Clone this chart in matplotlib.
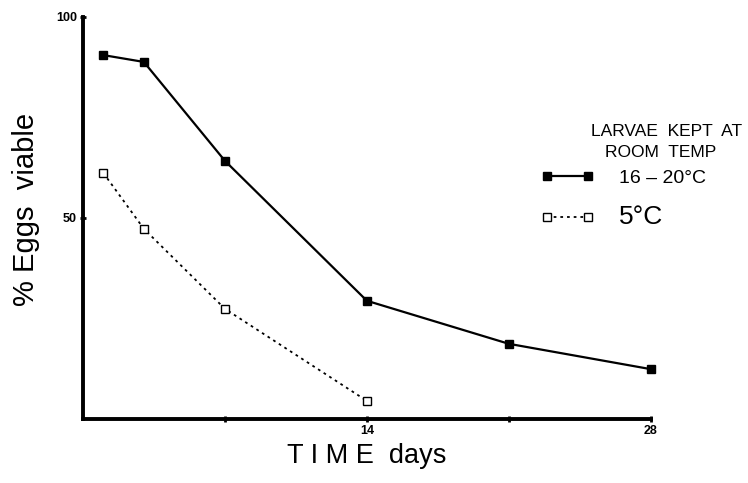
import matplotlib
matplotlib.use("Agg")
import matplotlib.pyplot as plt

plt.rcParams['font.family'] = ['Liberation Sans', 'DejaVu Sans']

days_warm = [1, 3, 7, 14, 21, 28]
viable_warm = [90.5, 88.8, 64.2, 29.4, 18.7, 12.4]
days_cold = [1, 3, 7, 14]
viable_cold = [61.2, 47.3, 27.4, 4.5]

xticks = [7, 14, 21, 28]
xticklabels = ['', '14', '', '28']
yticks = [50, 100]
yticklabels = ['50', '100']


fig = plt.figure(figsize=(7.48, 4.83), dpi=100)
ax = fig.add_axes([0.111, 0.1325, 0.759, 0.8325])

ax.plot(days_warm, viable_warm, color='black', lw=1.6, marker='s', ms=6,
        markerfacecolor='black', markeredgecolor='black', label='16 \u2013 20\u00b0C',
        clip_on=False)
ax.plot(days_cold, viable_cold, color='black', lw=1.3, ls=(0, (1.5, 2.2)), marker='s', ms=5.5,
        markerfacecolor='white', markeredgecolor='black', markeredgewidth=1.0, label='5\u00b0C',
        clip_on=False)

ax.set_xlim(0, 28)
ax.set_ylim(0, 100)

for side in ['top', 'right']:
    ax.spines[side].set_visible(False)
for side in ['left', 'bottom']:
    ax.spines[side].set_linewidth(2.8)

ax.set_xticks(xticks)
ax.set_xticklabels(xticklabels, fontsize=9, fontweight='bold', fontstretch='condensed')
ax.set_yticks(yticks)
ax.set_yticklabels(yticklabels, fontsize=9, fontweight='bold')
ax.tick_params(direction='inout', length=5, width=2, pad=2)

ax.set_xlabel('T I M E  days', fontsize=19.5, labelpad=4)
ax.set_ylabel('% Eggs  viable', fontsize=21, labelpad=12)
ax.yaxis.set_label_coords(-0.075, 0.52)

fig.text(0.992, 0.728, 'LARVAE  KEPT  AT', fontsize=12.5, ha='right', va='center')
fig.text(0.957, 0.685, 'ROOM  TEMP', fontsize=12.5, ha='right', va='center')

leg = ax.legend(loc='upper left', bbox_to_anchor=(0.70, 0.685), bbox_transform=fig.transFigure,
                frameon=False, numpoints=2, handlelength=2.7, handletextpad=1.3,
                labelspacing=0.9, fontsize=14)
leg.get_texts()[1].set_fontsize(19)

fig.savefig('out.png', dpi=100)
